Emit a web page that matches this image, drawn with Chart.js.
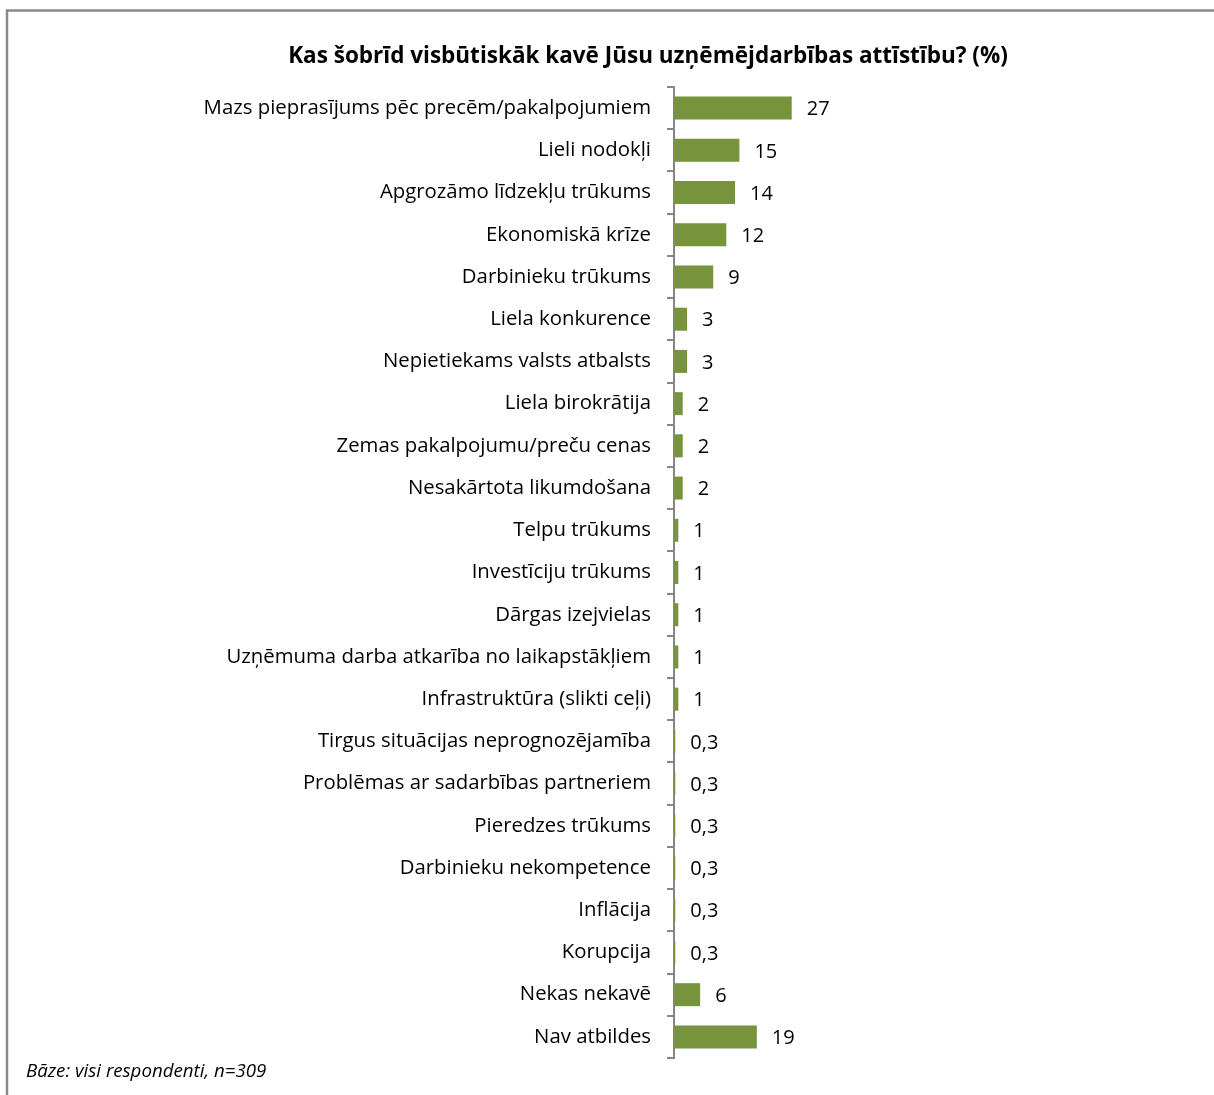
<!DOCTYPE html>
<html><head><meta charset="utf-8">
<script src="https://cdn.jsdelivr.net/npm/chart.js@4/dist/chart.umd.min.js"></script>
<style>html,body{margin:0;padding:0;background:#fff}#wrap{width:1214px;height:1095px;position:relative}</style>
</head><body><div id="wrap"><canvas id="c" width="1214" height="1095"></canvas></div>
<script>
const titleText = "Kas šobrīd visbūtiskāk kavē Jūsu uzņēmējdarbības attīstību? (%)";
const footnote = "Bāze: visi respondenti, n=309";
const categories = [
  "Mazs pieprasījums pēc precēm/pakalpojumiem",
  "Lieli nodokļi",
  "Apgrozāmo līdzekļu trūkums",
  "Ekonomiskā krīze",
  "Darbinieku trūkums",
  "Liela konkurence",
  "Nepietiekams valsts atbalsts",
  "Liela birokrātija",
  "Zemas pakalpojumu/preču cenas",
  "Nesakārtota likumdošana",
  "Telpu trūkums",
  "Investīciju trūkums",
  "Dārgas izejvielas",
  "Uzņēmuma darba atkarība no laikapstākļiem",
  "Infrastruktūra (slikti ceļi)",
  "Tirgus situācijas neprognozējamība",
  "Problēmas ar sadarbības partneriem",
  "Pieredzes trūkums",
  "Darbinieku nekompetence",
  "Inflācija",
  "Korupcija",
  "Nekas nekavē",
  "Nav atbildes"
];
const values = [27, 15, 14, 12, 9, 3, 3, 2, 2, 2, 1, 1, 1, 1, 1, 0.3, 0.3, 0.3, 0.3, 0.3, 0.3, 6, 19];

const FONT = "'Open Sans', 'Noto Sans', sans-serif";
const AXIS_X = 674;
const PAD_L = 186, PAD_R = 104;

const framePlugin = {
  id: 'frame',
  beforeDraw(chart) {
    const ctx = chart.ctx;
    ctx.save();
    ctx.fillStyle = '#ffffff';
    ctx.fillRect(0, 0, chart.width, chart.height);
    ctx.strokeStyle = '#8a8a8a';
    ctx.lineWidth = 2.5;
    ctx.beginPath();
    ctx.moveTo(7, chart.height);
    ctx.lineTo(7, 10.5);
    ctx.lineTo(chart.width, 10.5);
    ctx.stroke();
    ctx.restore();
  },
  afterDraw(chart) {
    const ctx = chart.ctx;
    ctx.save();
    ctx.font = "italic 18.7px " + FONT;
    ctx.fillStyle = '#000';
    ctx.textAlign = 'left';
    ctx.textBaseline = 'middle';
    ctx.fillText(footnote, 26, 1072);
    ctx.restore();
  }
};

const valueLabelPlugin = {
  id: 'valueLabels',
  afterDatasetsDraw(chart) {
    const ctx = chart.ctx;
    const meta = chart.getDatasetMeta(0);
    ctx.save();
    ctx.font = "20px " + FONT;
    ctx.fillStyle = '#000';
    ctx.textAlign = 'left';
    ctx.textBaseline = 'middle';
    meta.data.forEach((el, i) => {
      const txt = String(values[i]).replace('.', ',');
      ctx.fillText(txt, el.x + 15, el.y + 1.5);
    });
    ctx.restore();
  }
};

new Chart(document.getElementById('c'), {
  type: 'bar',
  data: {
    labels: categories,
    datasets: [{
      data: values,
      backgroundColor: '#77933C',
      borderWidth: 0,
      categoryPercentage: 1,
      barPercentage: 0.545
    }]
  },
  options: {
    indexAxis: 'y',
    responsive: false,
    devicePixelRatio: 1,
    animation: false,
    layout: { padding: { left: PAD_L, right: PAD_R, top: 0, bottom: 37 } },
    plugins: {
      legend: { display: false },
      tooltip: { enabled: false },
      title: {
        display: true,
        text: titleText,
        color: '#000',
        font: { family: FONT, size: 22.5, weight: 'bold', lineHeight: 1.2 },
        padding: { top: 43.5, bottom: 16.5 }
      }
    },
    scales: {
      x: { display: false, min: 0, max: 100 },
      y: {
        afterFit(scale) { scale.width = AXIS_X - PAD_L; },
        grid: { display: true, drawOnChartArea: false, drawTicks: true, tickLength: 7, offset: true, color: '#868686', lineWidth: 2 },
        border: { display: true, color: '#868686', width: 2 },
        ticks: { color: '#000', padding: 16, font: { family: FONT, size: 20.35 }, autoSkip: false }
      }
    }
  },
  plugins: [framePlugin, valueLabelPlugin]
});
</script></body></html>
